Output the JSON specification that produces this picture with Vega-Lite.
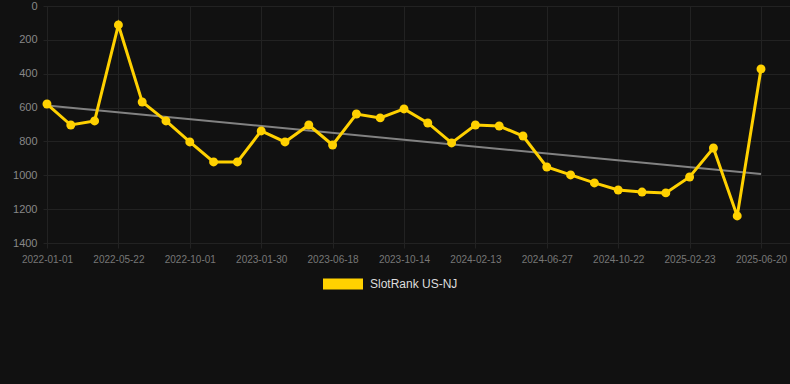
{
  "$schema": "https://vega.github.io/schema/vega-lite/v6.json",
  "autosize": "none",
  "width": 747,
  "height": 237,
  "padding": {"left": 43, "top": 6, "right": 0, "bottom": 141},
  "background": "#111111",
  "config": {
    "view": {"stroke": null},
    "font": "Liberation Sans",
    "axis": {"gridColor": "#222222", "gridWidth": 1, "domain": false, "labelFont": "Liberation Sans"}
  },
  "datasets": {
    "rank": [
      {"date": "2022-01-01", "rank": 579},
      {"date": "2022-02-17", "rank": 703},
      {"date": "2022-04-05", "rank": 679},
      {"date": "2022-05-22", "rank": 112},
      {"date": "2022-07-06", "rank": 567},
      {"date": "2022-08-18", "rank": 679},
      {"date": "2022-10-01", "rank": 803},
      {"date": "2022-11-10", "rank": 921},
      {"date": "2022-12-20", "rank": 921},
      {"date": "2023-01-30", "rank": 738},
      {"date": "2023-03-16", "rank": 803},
      {"date": "2023-05-02", "rank": 703},
      {"date": "2023-06-18", "rank": 821},
      {"date": "2023-07-27", "rank": 638},
      {"date": "2023-09-05", "rank": 661},
      {"date": "2023-10-14", "rank": 608},
      {"date": "2023-11-23", "rank": 691},
      {"date": "2024-01-02", "rank": 809},
      {"date": "2024-02-13", "rank": 703},
      {"date": "2024-03-28", "rank": 709},
      {"date": "2024-05-12", "rank": 768},
      {"date": "2024-06-27", "rank": 951},
      {"date": "2024-08-04", "rank": 998},
      {"date": "2024-09-12", "rank": 1045},
      {"date": "2024-10-22", "rank": 1087},
      {"date": "2024-12-02", "rank": 1099},
      {"date": "2025-01-12", "rank": 1104},
      {"date": "2025-02-23", "rank": 1010},
      {"date": "2025-04-03", "rank": 839},
      {"date": "2025-05-12", "rank": 1240},
      {"date": "2025-06-20", "rank": 372}
    ],
    "trend": [
      {"date": "2022-01-01", "value": 588},
      {"date": "2025-06-20", "value": 992}
    ]
  },
  "encoding": {
    "x": {
      "field": "date",
      "type": "ordinal",
      "scale": {"type": "point", "padding": 0.693, "align": 0.121},
      "axis": {
        "title": null,
        "labelAngle": 0,
        "values": ["2022-01-01", "2022-05-22", "2022-10-01", "2023-01-30", "2023-06-18", "2023-10-14", "2024-02-13", "2024-06-27", "2024-10-22", "2025-02-23", "2025-06-20"],
        "grid": true,
        "ticks": true,
        "tickColor": "#222222",
        "tickSize": 5,
        "labelPadding": 6,
        "labelFontSize": 10,
        "labelColor": "#777777"
      }
    },
    "y": {
      "field": "value",
      "type": "quantitative",
      "scale": {"domain": [0, 1400], "reverse": true, "nice": false},
      "axis": {
        "title": null,
        "values": [0, 200, 400, 600, 800, 1000, 1200, 1400],
        "format": "d",
        "labelOverlap": false,
        "ticks": false,
        "labelPadding": 6,
        "labelFontSize": 11,
        "labelColor": "#888888"
      }
    }
  },
  "layer": [
    {
      "data": {"name": "trend"},
      "mark": {"type": "line", "color": "#828282", "strokeWidth": 2}
    },
    {
      "data": {"name": "rank"},
      "mark": {"type": "line", "strokeWidth": 3},
      "encoding": {
        "y": {
          "field": "rank",
          "type": "quantitative",
          "scale": {"domain": [0, 1400], "reverse": true, "nice": false},
          "axis": {
            "title": null,
            "values": [0, 200, 400, 600, 800, 1000, 1200, 1400],
            "format": "d",
            "labelOverlap": false,
            "ticks": false,
            "labelPadding": 6,
            "labelFontSize": 11,
            "labelColor": "#888888"
          }
        },
        "color": {
          "datum": "SlotRank US-NJ",
          "type": "nominal",
          "scale": {"range": ["#FFD100"]},
          "legend": {
            "title": null,
            "orient": "none",
            "legendX": 280,
            "legendY": 258,
            "symbolType": "M-1,-0.275L1,-0.275L1,0.275L-1,0.275Z",
            "symbolSize": 1600,
            "symbolStrokeWidth": 0,
            "symbolFillColor": "#FFD100",
            "labelFontSize": 12,
            "labelColor": "#dddddd",
            "labelOffset": 7,
            "encode": {"symbols": {"update": {"fill": {"value": "#FFD100"}, "strokeWidth": {"value": 0}}}}
          }
        }
      }
    },
    {
      "data": {"name": "rank"},
      "mark": {"type": "point", "filled": true, "opacity": 1, "size": 80, "color": "#FFD100"},
      "encoding": {
        "y": {"field": "rank", "type": "quantitative"}
      }
    }
  ]
}
